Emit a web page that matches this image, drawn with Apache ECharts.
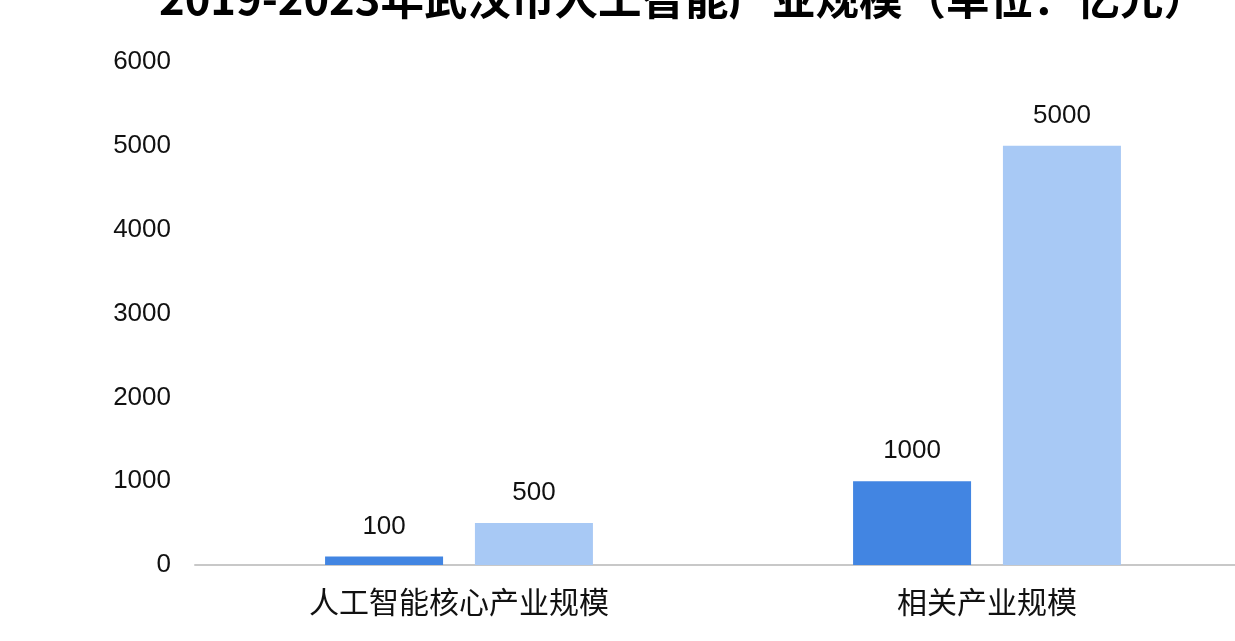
<!DOCTYPE html>
<html>
<head>
<meta charset="utf-8">
<script src="https://cdn.jsdelivr.net/npm/echarts@6/dist/echarts.min.js"></script>
<style>html,body{margin:0;padding:0;background:#fff}#c{width:1235px;height:641px}</style>
</head>
<body>
<div id="c"></div>
<script>
const titleText = '2019-2023年武汉市人工智能产业规模（单位：亿元）';
const categories = ['人工智能核心产业规模', '相关产业规模'];
const seriesA = [100, 1000];
const seriesB = [500, 5000];
const yTicks = { min: 0, max: 6000, interval: 1000 };

const chart = echarts.init(document.getElementById('c'));
const font = '"Noto Sans CJK SC", "Noto Sans", sans-serif';
const numFont = '"Liberation Sans", Arial, sans-serif';
chart.setOption({
  backgroundColor: '#ffffff',
  animation: false,
  title: {
    text: titleText,
    left: 154,
    top: -28,
    textStyle: { fontFamily: font, fontSize: 43.5, fontWeight: 'bold', color: '#000' }
  },
  grid: { left: 195, width: 1056, top: 62, bottom: 76, containLabel: false, outerBoundsMode: 'none' },
  xAxis: {
    type: 'category',
    data: categories,
    axisLine: { lineStyle: { color: '#c8c8c8', width: 2 } },
    axisTick: { show: false },
    axisLabel: { fontFamily: font, fontSize: 30, color: '#111', margin: 22 }
  },
  yAxis: {
    type: 'value',
    min: yTicks.min, max: yTicks.max, interval: yTicks.interval,
    axisLine: { show: false },
    axisTick: { show: false },
    splitLine: { show: false },
    axisLabel: { fontFamily: numFont, fontSize: 26, color: '#111', margin: 24, formatter: v => String(v) }
  },
  series: [
    {
      type: 'bar', data: seriesA, barWidth: 118, barGap: '27%',
      itemStyle: { color: '#4285e2' },
      label: { show: true, position: 'top', distance: 17, fontFamily: numFont, fontSize: 26, color: '#111' }
    },
    {
      type: 'bar', data: seriesB, barWidth: 118, barGap: '27%',
      itemStyle: { color: '#a8c9f5' },
      label: { show: true, position: 'top', distance: 17, fontFamily: numFont, fontSize: 26, color: '#111' }
    }
  ]
});
</script>
</body>
</html>
